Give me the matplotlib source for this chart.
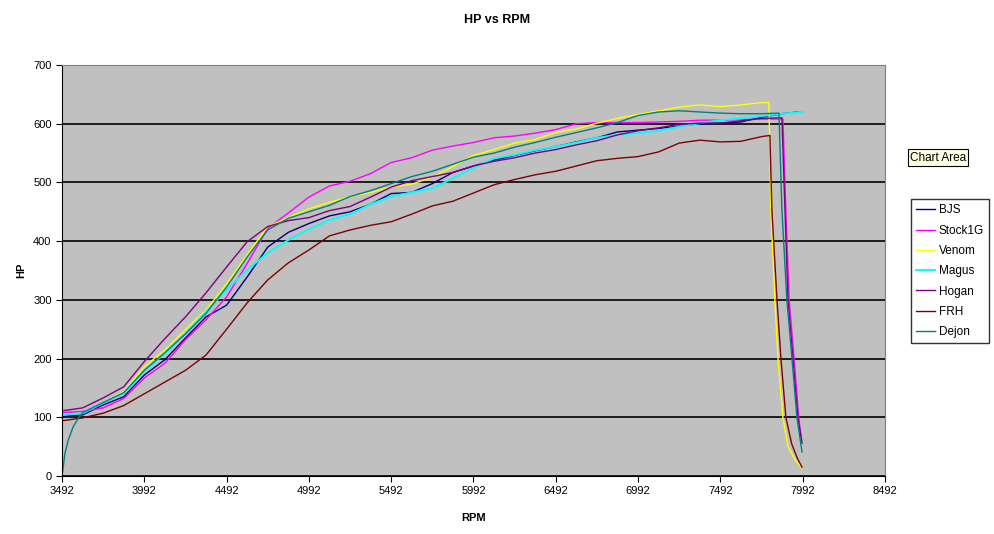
import numpy as np
import matplotlib
matplotlib.use("Agg")
import matplotlib.pyplot as plt

plt.rcParams['font.family'] = ['Liberation Sans', 'DejaVu Sans']

# common rpm grid for the climbing part of every pull
rpm = [3492, 3617, 3742, 3867, 3992, 4117, 4242, 4367, 4492, 4617, 4742, 4867,
       4992, 5117, 5242, 5367, 5492, 5617, 5742, 5867, 5992, 6117, 6242, 6367,
       6492, 6617, 6742, 6867, 6992, 7117, 7242, 7367, 7492, 7617, 7742]

bjs_hp = [102, 104, 121, 135, 172, 198, 235, 271, 291, 339, 390, 415,
          430, 443, 450, 463, 481, 483, 498, 517, 528, 538, 546, 554,
          561, 569, 576, 586, 589, 592, 596, 600, 601, 603, 611]
stock1g_hp = [108, 110, 116, 132, 167, 192, 232, 266, 305, 362, 422, 448,
              475, 494, 502, 515, 534, 542, 555, 562, 568, 576, 579, 584,
              590, 600, 602, 602, 602, 603, 604, 606, 606, 607, 608]
venom_hp = [104, 107, 125, 144, 186, 215, 249, 283, 327, 377, 425, 440,
            455, 466, 476, 483, 492, 497, 509, 527, 546, 556, 567, 573,
            585, 591, 601, 609, 616, 622, 628, 632, 629, 632, 636]
magus_hp = [104, 107, 125, 141, 179, 209, 243, 280, 317, 351, 380, 402,
            420, 436, 446, 463, 476, 483, 490, 507, 525, 541, 547, 555,
            561, 568, 576, 581, 584, 588, 595, 601, 606, 609, 613]
hogan_hp = [111, 116, 133, 152, 195, 234, 271, 312, 356, 399, 425, 435,
            440, 452, 459, 475, 492, 503, 510, 517, 528, 536, 542, 550,
            556, 564, 571, 581, 588, 593, 599, 601, 601, 605, 609]
frh_hp = [94, 99, 107, 120, 140, 160, 180, 206, 250, 295, 334, 363,
          385, 409, 419, 427, 433, 446, 460, 468, 482, 496, 505, 513,
          519, 528, 537, 541, 544, 552, 567, 572, 569, 570, 578]
dejon_hp = [102, 108, 125, 142, 180, 210, 242, 277, 322, 373, 419, 439,
            450, 461, 476, 486, 498, 510, 519, 531, 543, 550, 560, 568,
            577, 585, 593, 602, 614, 620, 622, 620, 618, 617, 617]

# Dejon starts from zero
dejon_head_rpm = [3492, 3510, 3530, 3560, 3590]
dejon_head_hp = [0, 39, 61, 84, 98]

# end of each pull (drop off)
bjs_tail_rpm = [7866, 7965]
bjs_tail_hp = [617, 620]
stock1g_tail_rpm = [7872, 7890, 7910, 7940, 7968, 7985]
stock1g_tail_hp = [608, 450, 300, 200, 100, 62]
venom_tail_rpm = [7787, 7799, 7823, 7842, 7872, 7903, 7945, 7988]
venom_tail_hp = [636, 453, 300, 200, 100, 50, 28, 14]
magus_tail_rpm = [7866, 7990]
magus_tail_hp = [617, 620]
hogan_tail_rpm = [7866, 7884, 7903, 7933, 7963, 7988]
hogan_tail_hp = [610, 458, 300, 200, 100, 56]
frh_tail_rpm = [7793, 7805, 7836, 7860, 7890, 7925, 7960, 7988]
frh_tail_hp = [580, 453, 300, 200, 100, 55, 30, 15]
dejon_tail_rpm = [7848, 7866, 7896, 7927, 7957, 7988]
dejon_tail_hp = [618, 453, 300, 200, 100, 41]

names = ["BJS", "Stock1G", "Venom", "Magus", "Hogan", "FRH", "Dejon"]
colors = ["#000080", "#FF00FF", "#FFFF00", "#00FFFF", "#800080", "#800000", "#008080"]

series = [
    (rpm + bjs_tail_rpm, bjs_hp + bjs_tail_hp),
    (rpm + stock1g_tail_rpm, stock1g_hp + stock1g_tail_hp),
    (rpm + venom_tail_rpm, venom_hp + venom_tail_hp),
    (rpm + magus_tail_rpm, magus_hp + magus_tail_hp),
    (rpm + hogan_tail_rpm, hogan_hp + hogan_tail_hp),
    (rpm + frh_tail_rpm, frh_hp + frh_tail_hp),
    (dejon_head_rpm + rpm[1:] + dejon_tail_rpm, dejon_head_hp + dejon_hp[1:] + dejon_tail_hp),
]

fig = plt.figure(figsize=(9.94, 5.34), dpi=100)
ax = fig.add_axes([0.0624, 0.1086, 0.8279, 0.7697])
ax.set_facecolor("#C0C0C0")

for (x, y), name, c in zip(series, names, colors):
    lw = 1.4 if name == "Magus" else 1.0
    ax.plot(x, y, color=c, lw=lw, label=name)

ax.set_xlim(3492, 8492)
ax.set_ylim(0, 700)
ax.set_xticks(np.arange(3492, 8493, 500))
ax.set_yticks(np.arange(0, 701, 100))
ax.yaxis.grid(True, color="black", lw=1.2)
ax.set_axisbelow(True)
ax.tick_params(labelsize=8, length=4, color="black")

for s in ["top", "right"]:
    ax.spines[s].set_color("#808080")
ax.spines["left"].set_color("black")
ax.spines["bottom"].set_color("black")

ax.set_xlabel("RPM", fontsize=8, fontweight="bold", labelpad=12)
ax.set_ylabel("HP", fontsize=8, fontweight="bold", labelpad=5)
fig.text(0.5, 0.962, "HP vs RPM", ha="center", va="center", fontsize=9, fontweight="bold")

leg = fig.legend(loc="upper left", bbox_to_anchor=(0.9165, 0.627), borderaxespad=0,
                 fontsize=8.5, frameon=True, fancybox=False, edgecolor="black",
                 handlelength=1.6, handletextpad=0.3, borderpad=0.45,
                 labelspacing=0.7)
leg.get_frame().set_linewidth(1.0)

fig.text(0.9155, 0.705, "Chart Area", fontsize=8.5, va="center", ha="left",
         bbox=dict(boxstyle="square,pad=0.2", fc="#FFFFE1", ec="black", lw=0.8))

fig.savefig("out.png", dpi=100)
